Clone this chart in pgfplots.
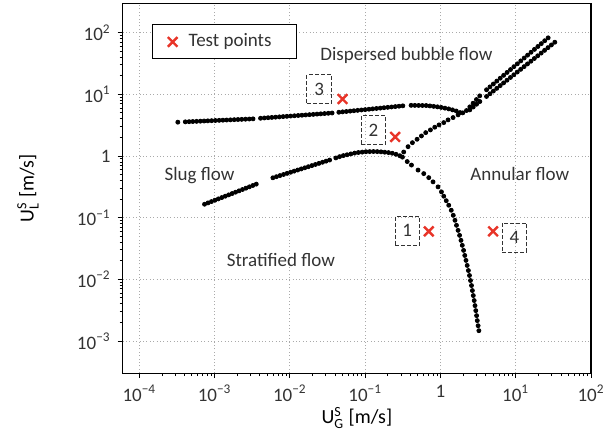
\documentclass[border=0pt]{standalone}
\usepackage{fontspec}
\setmainfont{Carlito}
\usepackage{amsmath}
\usepackage{pgfplots}
\pgfplotsset{compat=1.18}

\definecolor{txt}{RGB}{51,51,51}
\definecolor{xred}{RGB}{232,52,40}
\definecolor{gridc}{RGB}{170,170,170}
\newcommand{\fs}{\fontsize{9.5}{11}\selectfont}
\newcommand{\tm}{\textminus}

\begin{document}
\begin{tikzpicture}
\begin{axis}[
  name=map,
  xmode=log, ymode=log,
  scale only axis, width=234.2pt, height=185pt,
  xmin=6e-5, xmax=100, ymin=3e-4, ymax=300,
  axis line style={line width=0.6pt},
  tick pos=left, tick align=outside,
  major tick length=2.5pt, minor tick length=1.5pt,
  every tick/.style={black, line width=0.5pt},
  grid=major,
  major grid style={gridc, line width=0.45pt, dash pattern=on 0.5pt off 1.2pt},
  xtick={1e-4,1e-3,1e-2,1e-1,1,10,100},
  xticklabels={10\textsuperscript{\tm4},10\textsuperscript{\tm3},10\textsuperscript{\tm2},10\textsuperscript{\tm1},1,10\textsuperscript{1},10\textsuperscript{2}},
  ytick={1e-3,1e-2,1e-1,1,10,100},
  yticklabels={10\textsuperscript{\tm3},10\textsuperscript{\tm2},10\textsuperscript{\tm1},1,10\textsuperscript{1},10\textsuperscript{2}},
  tick label style={font=\fs, text=txt},
  xlabel={U$^{\text{S}}_{\text{G}}$ [m/s]},
  ylabel={U$^{\text{S}}_{\text{L}}$ [m/s]},
  label style={font=\fs, text=txt},
  every axis x label/.style={at={(axis description cs:0.5,-0.1208)}, anchor=center},
  every axis y label/.style={at={(axis description cs:-0.2022,0.5)}, anchor=center, rotate=90},
  legend style={at={(0.063,0.943)}, anchor=north west, draw=black, line width=0.5pt,
    fill=white, font=\fs, text=txt, inner xsep=4pt, inner ysep=2.5pt},
  legend cell align=left,
]
% upper boundary (slug / dispersed bubble) and its continuation
\addplot[only marks, mark=*, mark size=1pt, black, forget plot] coordinates {
(3.243e-4,3.540) (4.074e-4,3.585) (4.571e-4,3.607) (5.129e-4,3.630) (5.754e-4,3.652) (6.457e-4,3.675) (7.244e-4,3.698) (8.128e-4,3.721) (9.120e-4,3.744) (1.023e-3,3.768) (1.148e-3,3.791) (1.288e-3,3.815) (1.445e-3,3.838) (1.622e-3,3.862) (1.820e-3,3.887) (2.042e-3,3.911) (2.291e-3,3.935) (2.570e-3,3.960) (2.884e-3,3.984) (3.236e-3,4.009)
(4.074e-3,4.098) (4.571e-3,4.141) (5.129e-3,4.184) (5.754e-3,4.227) (6.457e-3,4.271) (7.244e-3,4.315) (8.128e-3,4.360) (9.120e-3,4.405) (1.023e-2,4.451) (1.148e-2,4.497) (1.288e-2,4.544) (1.445e-2,4.591) (1.622e-2,4.639) (1.820e-2,4.687) (2.042e-2,4.736) (2.291e-2,4.785) (2.570e-2,4.835) (2.884e-2,4.885) (3.236e-2,4.936) (3.631e-2,4.987)
(0.04467,5.129) (0.05012,5.202) (0.05623,5.276) (0.06310,5.351) (0.07079,5.427) (0.07943,5.504) (0.08913,5.582) (0.1,5.661) (0.1122,5.742) (0.1259,5.823) (0.1413,5.906) (0.1585,5.990) (0.1778,6.075) (0.1995,6.162) (0.2239,6.249) (0.2512,6.338) (0.2818,6.428) (0.3162,6.520)
(0.4074,6.637) (0.4571,6.628) (0.5129,6.616) (0.5754,6.605) (0.6457,6.593) (0.7244,6.497) (0.8128,6.386) (0.9120,6.277) (1.023,6.144) (1.148,5.977) (1.288,5.814) (1.445,5.601) (1.622,5.377) (1.820,5.065)
(2.218,5.470) (2.455,6.274) (2.716,7.194) (3.006,8.253) (3.327,9.467)
(4.093,11.885) (4.545,13.236) (5.047,14.741) (5.604,16.417) (6.223,18.284) (6.910,20.363) (7.673,22.678) (8.520,25.256) (9.461,28.128) (10.505,31.326) (11.665,34.888) (12.953,38.855) (14.383,43.273) (15.971,48.193) (17.734,53.673) (19.692,59.775) (21.866,66.572) (24.280,74.141) (26.961,82.571)
};
% lower boundary (stratified) bending down
\addplot[only marks, mark=*, mark size=1pt, black, forget plot] coordinates {
(7.345e-4,0.1652) (8.162e-4,0.1737) (9.069e-4,0.1826) (1.008e-3,0.1919) (1.120e-3,0.2018) (1.244e-3,0.2121) (1.383e-3,0.2230) (1.537e-3,0.2345) (1.708e-3,0.2465) (1.897e-3,0.2591) (2.108e-3,0.2724) (2.343e-3,0.2864) (2.603e-3,0.3011) (2.893e-3,0.3166) (3.215e-3,0.3328) (3.572e-3,0.3499)
(5.943e-3,0.4436) (6.624e-3,0.4624) (7.382e-3,0.4819) (8.227e-3,0.5023) (9.169e-3,0.5236) (1.022e-2,0.5457) (1.139e-2,0.5688) (1.269e-2,0.5929) (1.415e-2,0.6180) (1.577e-2,0.6441) (1.757e-2,0.6714) (1.958e-2,0.6998) (2.183e-2,0.7294) (2.433e-2,0.7602) (2.711e-2,0.7924) (3.022e-2,0.8259) (3.368e-2,0.8608)
(0.04074,0.9311) (0.04571,0.9772) (0.05129,1.0165) (0.05754,1.0486) (0.06457,1.0818) (0.07244,1.1164) (0.08128,1.1412) (0.09120,1.1573) (0.10233,1.1737) (0.11482,1.180) (0.12882,1.183) (0.14454,1.180) (0.16218,1.1695) (0.18197,1.1535) (0.20417,1.1376) (0.22909,1.1092) (0.25704,1.0666) (0.28840,1.0116) (0.3126,0.9594)
(0.3617,0.8137) (0.412,0.7135) (0.504,0.5916) (0.600,0.5188) (0.699,0.4464) (0.797,0.3814) (0.929,0.3162) (1.031,0.2622) (1.106,0.2231) (1.194,0.1885) (1.289,0.1592) (1.392,0.1320) (1.480,0.1094) (1.559,0.0907) (1.633,0.0752) (1.714,0.0623) (1.795,0.0517) (1.874,0.0429) (1.950,0.0356) (2.029,0.0295) (2.104,0.0244) (2.183,0.0203) (2.265,0.0168) (2.350,0.0139) (2.430,0.01155) (2.506,0.00957) (2.584,0.00794) (2.656,0.00658) (2.731,0.00546) (2.806,0.00453) (2.877,0.00375) (2.948,0.00311) (3.021,0.00258) (3.087,0.00214) (3.162,0.00177) (3.240,0.00147)
};
% annular boundary rising to the junction
\addplot[only marks, mark=*, mark size=1pt, black, forget plot] coordinates {
(0.325,1.162) (0.371,1.418) (0.424,1.647) (0.489,1.871) (0.559,2.117) (0.637,2.396) (0.736,2.651) (0.840,2.934) (0.958,3.198) (1.106,3.486) (1.262,3.857) (1.471,4.206) (1.714,4.654) (1.980,5.016)
(2.455,5.610) (2.723,6.232) (3.020,6.924) (3.334,7.656)
(4.093,9.247) (4.544,10.233) (5.044,11.324) (5.599,12.531) (6.216,13.867) (6.900,15.345) (7.660,16.981) (8.503,18.791) (9.440,20.794) (10.479,23.011) (11.633,25.464) (12.914,28.178) (14.336,31.182) (15.914,34.506) (17.666,38.185) (19.611,42.256) (21.770,46.760) (24.167,51.745) (26.828,57.262) (29.782,63.366) (33.061,70.121)
};
% test points
\addplot[only marks, mark=x, mark size=3.4pt, xred, line width=1.2pt,
  legend image code/.code={\path[draw=none] (0pt,0pt) -- (12pt,0pt);
    \path[xred, line width=1.2pt, mark size=3.4pt] plot[mark=x] coordinates {(6pt,0pt)};}] coordinates {
(0.7,0.06) (5,0.06) (0.25,2.04) (0.05,8.4)
};
\addlegendentry{\makebox[48pt][l]{Test points}}

% region names
\node[font=\fs, text=txt, anchor=base] at (axis cs:0.353,35.3) {Dispersed bubble flow};
\node[font=\fs, text=txt, anchor=base] at (axis cs:6.3e-4,0.4065) {Slug flow};
\node[font=\fs, text=txt, anchor=base] at (axis cs:11.34,0.4065) {Annular flow};
\node[font=\fs, text=txt, anchor=base] at (axis cs:7.59e-3,0.01616) {Stratified flow};

% numbered boxes
\tikzset{numbox/.style={draw=txt, text=txt, font=\fs, line width=0.5pt, dash pattern=on 2pt off 1pt, minimum width=12.2pt, minimum height=14.5pt, inner sep=0pt}}
\node[numbox] at (axis cs:0.3618,0.0612) {1};
\node[numbox] at (axis cs:0.1285,2.602) {2};
\node[numbox] at (axis cs:0.02445,12.1) {3};
\node[numbox] at (axis cs:9.58,0.0476) {4};
\end{axis}
\pgfresetboundingbox
\useasboundingbox ([shift={(-61.35pt,-32.85pt)}]map.south west) rectangle ([shift={(6.5pt,1.65pt)}]map.north east);
\end{tikzpicture}
\end{document}
